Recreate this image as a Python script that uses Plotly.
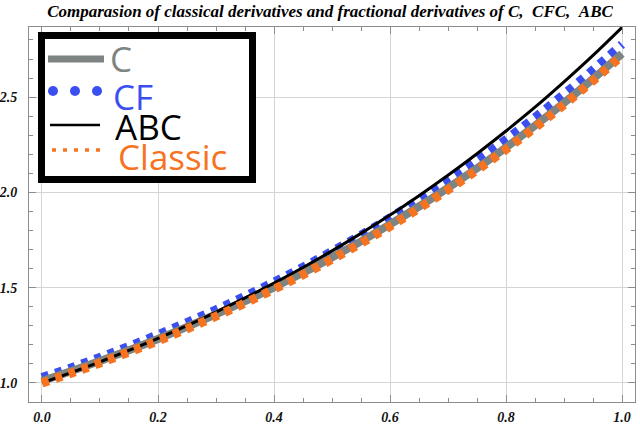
import plotly.graph_objects as go

# values
x_vals = [0.00, 0.05, 0.10, 0.15, 0.20, 0.25, 0.30, 0.35, 0.40, 0.45, 0.50,
          0.55, 0.60, 0.65, 0.70, 0.75, 0.80, 0.85, 0.90, 0.95, 1.00]
c_vals = [1.010, 1.061, 1.115, 1.172, 1.231, 1.294, 1.360, 1.429, 1.502, 1.578, 1.659,
          1.743, 1.832, 1.926, 2.024, 2.127, 2.236, 2.350, 2.470, 2.596, 2.728]
cf_vals = [1.028, 1.079, 1.134, 1.192, 1.253, 1.317, 1.384, 1.455, 1.529, 1.607, 1.690,
           1.776, 1.866, 1.962, 2.062, 2.167, 2.277, 2.393, 2.515, 2.643, 2.777]
abc_vals = [1.000, 1.054, 1.111, 1.171, 1.234, 1.301, 1.372, 1.446, 1.524, 1.606, 1.693,
            1.785, 1.881, 1.983, 2.090, 2.203, 2.322, 2.447, 2.580, 2.719, 2.866]
classic_vals = [1.000, 1.051, 1.105, 1.162, 1.221, 1.284, 1.350, 1.419, 1.492, 1.568, 1.649,
                1.733, 1.822, 1.916, 2.014, 2.117, 2.226, 2.340, 2.460, 2.586, 2.718]

x_ticks = [0.0, 0.2, 0.4, 0.6, 0.8, 1.0]
y_ticks = [1.0, 1.5, 2.0, 2.5]
legend_names = ["C", "CF", "ABC", "Classic"]

colors = {
    "C": "#7e8482",
    "CF": "#3b4ff0",
    "ABC": "#000000",
    "Classic": "#f7731f",
}

W, H = 640, 424
ML, MR, MT, MB = 29, 5, 27, 22
PW, PH = W - ML - MR, H - MT - MB


def px2x(px):
    # picture pixel -> paper x
    return (px - ML) / PW


def px2y(py):
    # picture pixel -> paper y
    return (H - MB - py) / PH


fig = go.Figure()

fig.add_trace(go.Scatter(x=x_vals, y=cf_vals, mode="lines", line_shape="spline",
                         line=dict(color=colors["CF"], width=9, dash="7px,7px"),
                         showlegend=False))
fig.add_trace(go.Scatter(x=x_vals, y=c_vals, mode="lines", line_shape="spline",
                         line=dict(color=colors["C"], width=8),
                         showlegend=False))
fig.add_trace(go.Scatter(x=x_vals, y=abc_vals, mode="lines", line_shape="spline",
                         line=dict(color=colors["ABC"], width=3),
                         showlegend=False))
fig.add_trace(go.Scatter(x=x_vals, y=classic_vals, mode="lines", line_shape="spline",
                         line=dict(color=colors["Classic"], width=9, dash="7px,7px"),
                         showlegend=False))

tick_font = dict(family="Liberation Serif", size=14, color="#111111",
                 weight="bold", style="italic")
axis_common = dict(
    showline=True, linecolor="#8c8c8c", linewidth=1, mirror="ticks",
    ticks="inside", ticklen=7, tickcolor="#8c8c8c",
    showgrid=True, gridcolor="#d2d5d7", gridwidth=1, zeroline=False,
    tickfont=tick_font, automargin=False,
)

fig.update_xaxes(range=[-0.0224, 1.0224], tickvals=x_ticks,
                 ticktext=[f"{v:.1f}" for v in x_ticks], ticklabelstandoff=2,
                 minor=dict(dtick=0.05, tick0=0, ticks="inside", ticklen=4,
                            tickcolor="#8c8c8c", showgrid=False),
                 **axis_common)
fig.update_yaxes(range=[0.90, 2.868], tickvals=y_ticks,
                 ticktext=[f"{v:.1f}" for v in y_ticks], ticklabelstandoff=8,
                 minor=dict(dtick=0.1, tick0=0, ticks="inside", ticklen=4,
                            tickcolor="#8c8c8c", showgrid=False),
                 **axis_common)

# hand drawn legend box like the original
shapes = [
    dict(type="rect", xref="paper", yref="paper",
         x0=px2x(41.5), x1=px2x(252.5), y0=px2y(179.5), y1=px2y(35.5),
         line=dict(color="black", width=7), fillcolor="white"),
    dict(type="line", xref="paper", yref="paper",
         x0=px2x(48), x1=px2x(104), y0=px2y(59), y1=px2y(59),
         line=dict(color=colors["C"], width=7)),
    dict(type="line", xref="paper", yref="paper",
         x0=px2x(50), x1=px2x(100), y0=px2y(125), y1=px2y(125),
         line=dict(color=colors["ABC"], width=2.5)),
    dict(type="line", xref="paper", yref="paper",
         x0=px2x(52), x1=px2x(100), y0=px2y(150), y1=px2y(150),
         line=dict(color=colors["Classic"], width=3.5, dash="4px,7px")),
]
for cx in [53, 75, 97]:
    shapes.append(dict(type="circle", xref="paper", yref="paper",
                       x0=px2x(cx - 5), x1=px2x(cx + 5),
                       y0=px2y(91 + 5), y1=px2y(91 - 5),
                       line=dict(width=0), fillcolor=colors["CF"]))

label_pos = [(108, 58), (111, 96), (113, 126), (116, 156)]
annotations = []
for name, (lx, ly) in zip(legend_names, label_pos):
    annotations.append(dict(
        text=name, xref="paper", yref="paper", x=px2x(lx), y=px2y(ly),
        xanchor="left", yanchor="middle", showarrow=False, height=28,
        font=dict(family="Open Sans", size=35, color=colors[name]),
    ))

fig.update_layout(
    width=W, height=H,
    margin=dict(l=ML, r=MR, t=MT, b=MB),
    paper_bgcolor="white", plot_bgcolor="white",
    showlegend=False,
    title=dict(
        text="Comparasion of classical derivatives and fractional derivatives of C,\u00a0\u00a0CFC,\u00a0\u00a0ABC",
        x=330 / W, xref="container", xanchor="center",
        y=1 - 11 / H, yref="container", yanchor="middle",
        font=dict(family="Liberation Serif", size=17, color="black",
                  weight="bold", style="italic"),
    ),
    shapes=shapes,
    annotations=annotations,
)

# drop the default page margin so the figure sits at the window corner
fig.write_html("out.html", config={"displayModeBar": False},
               post_script="document.body.style.margin = '0';")
